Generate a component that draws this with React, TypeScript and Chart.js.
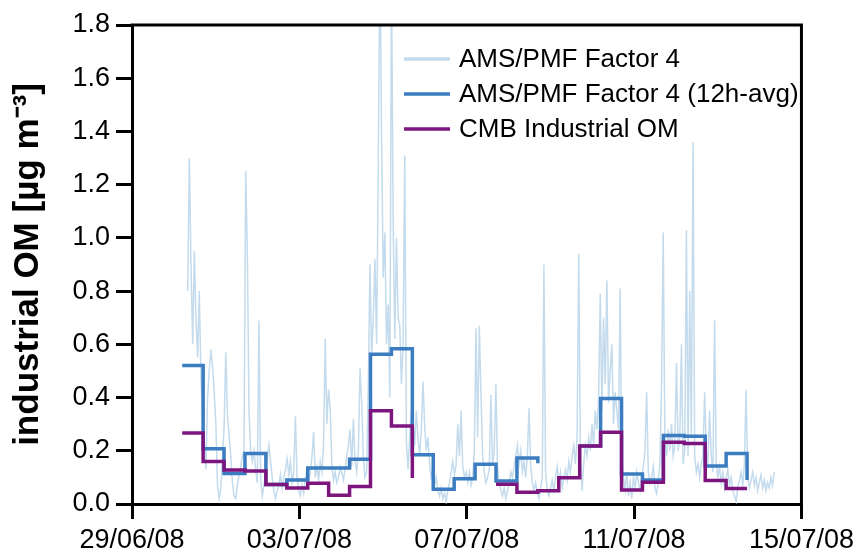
import React, { useEffect, useRef } from 'react';
import { Chart, registerables } from 'chart.js';

Chart.register(...registerables);

// ---- axis ticks ----
const xTickValues = [0, 4, 8, 12, 16]; // days since 29/06/08 00:00
const xTickLabels = ['29/06/08', '03/07/08', '07/07/08', '11/07/08', '15/07/08'];
const yTickValues = [0, 0.2, 0.4, 0.6, 0.8, 1.0, 1.2, 1.4, 1.6, 1.8];

// ---- 12h averaged series (step start times, days since 29/06/08) ----
const stepTimes = [
  1.2, 1.7, 2.2, 2.7, 3.2, 3.7, 4.2, 4.7, 5.2, 5.7, 6.2, 6.7, 7.2, 7.7,
  8.2, 8.7, 9.2, 9.7, 10.2, 10.7, 11.2, 11.7, 12.2, 12.7, 13.2, 13.7, 14.2, 14.7,
];
const amsPmf12h = [
  0.52, 0.208, 0.115, 0.19, 0.073, 0.09, 0.135, 0.135, 0.168, 0.563, 0.583, 0.185, 0.055, 0.095,
  0.149, 0.086, 0.173, 0.153, null, 0.218, 0.396, 0.113, 0.09, 0.257, 0.255, 0.143, 0.19, 0.09,
];
const cmbIndustrial = [
  0.267, 0.16, 0.128, 0.124, 0.073, 0.06, 0.078, 0.033, 0.066, 0.35, 0.293, 0.098, null, null,
  null, 0.074, 0.044, 0.05, 0.099, 0.218, 0.27, 0.053, 0.082, 0.232, 0.227, 0.088, 0.058, 0.058,
];

// ---- high resolution AMS/PMF factor 4 ----
const RAW_START = 1.331; // days since 29/06/08
const RAW_STEP = 0.0396; // days
const rawPart1 = [
  0.80, 1.30, 0.90, 0.60, 0.95, 0.70, 0.55, 0.80, 0.48, 0.30, 0.23, 0.13, 0.40, 0.50, 0.58, 0.52,
  0.42, 0.30, 0.07, 0.02, 0.06, 0.17, 0.30, 0.57, 0.33, 0.26, 0.18, 0.08, 0.03, 0.02, 0.07, 0.11,
  0.14, 0.18, 0.20, 1.25, 0.95, 0.35, 0.20, 0.16, 0.20, 0.13, 0.08, 0.69, 0.10, 0.03, 0.07, 0.12,
  0.17, 0.22, 0.16, 0.10, 0.05, 0.02, 0.05, 0.07, 0.11, 0.06, 0.10, 0.13, 0.17, 0.11, 0.16,
];
const rawPart2 = [
  0.08, 0.12, 0.33, 0.10, 0.05, 0.03, 0.07, 0.04, 0.10, 0.13, 0.08, 0.12, 0.18, 0.27, 0.10, 0.14,
  0.09, 0.16, 0.12, 0.22, 0.62, 0.30, 0.43, 0.36, 0.15, 0.09, 0.12, 0.08, 0.10, 0.14, 0.12, 0.09,
  0.13, 0.18, 0.22, 0.28, 0.14, 0.32, 0.16, 0.12, 0.20, 0.51, 0.38, 0.18, 0.10, 0.12, 0.45, 0.90,
  0.55, 0.70, 0.92, 0.60, 1.24, 2.10, 1.40, 0.85, 1.02, 0.60, 0.75, 0.40, 2.00, 1.07, 0.62, 1.00,
  0.70, 0.67, 0.45, 0.60, 1.31, 0.23, 0.13, 0.25, 0.35,
];
const rawPart3 = [
  0.30, 0.22, 0.35, 0.25, 0.18, 0.28, 0.46, 0.30, 0.20, 0.25, 0.15, 0.10, 0.13, 0.07, 0.10, 0.05,
  0.03, 0.06, 0.02, 0.04, 0.01, 0.05, 0.08, 0.12, 0.16, 0.11, 0.15, 0.30, 0.18, 0.35, 0.14, 0.10,
  0.12, 0.08, 0.12, 0.07, 0.10, 0.20, 0.66, 0.25, 0.67, 0.42, 0.18, 0.12, 0.08, 0.10, 0.13, 0.41,
  0.15, 0.20, 0.45, 0.14, 0.08, 0.05, 0.03, 0.06, 0.02, 0.05, 0.08, 0.12, 0.10, 0.14, 0.18, 0.22,
  0.15, 0.20, 0.12, 0.16, 0.10, 0.18, 0.36, 0.15, 0.08,
];
const rawPart4 = [
  0.05, 0.08, 0.04, 0.02, 0.06, 0.10, 0.90, 0.12, 0.05, 0.03, 0.06, 0.09, 0.05, 0.10, 0.14, 0.08,
  0.12, 0.06, 0.10, 0.13, 0.09, 0.16, 0.12, 0.18, 0.22, 0.15, 0.25, 0.94, 0.20, 0.05, 0.15, 0.22,
  0.18, 0.25, 0.20, 0.30, 0.22, 0.35, 0.28, 0.40, 0.79, 0.35, 0.70, 0.45, 0.84, 0.38, 0.50, 0.60,
  0.30, 0.42, 0.35, 0.28, 0.81, 0.15, 0.10, 0.05, 0.12, 0.03, 0.08, 0.02, 0.10, 0.06, 0.12, 0.08,
  0.05, 0.10, 0.14, 0.20, 0.42, 0.12, 0.08, 0.10, 0.14,
];
const rawPart5 = [
  0.06, 0.04, 0.08, 0.15, 0.45, 1.02, 0.25, 0.18, 0.28, 0.20, 0.30, 0.18, 0.22, 0.53, 0.20, 0.25,
  0.60, 0.15, 0.20, 1.03, 0.18, 0.80, 0.25, 1.36, 0.18, 0.12, 0.15, 0.10, 0.15, 0.18, 0.42, 0.20,
  0.15, 0.35, 0.18, 0.12, 0.69, 0.15, 0.10, 0.14, 0.08, 0.12, 0.06, 0.10, 0.13, 0.07, 0.10, 0.05,
  0.03, 0.01, 0.06, 0.09, 0.12, 0.07, 0.15, 0.43, 0.10, 0.06, 0.09, 0.12, 0.07, 0.10, 0.05, 0.08,
  0.11, 0.06, 0.09, 0.05, 0.08, 0.06, 0.10, 0.07, 0.12,
];

const seriesLabels = ['AMS/PMF Factor 4', 'AMS/PMF Factor 4 (12h-avg)', 'CMB Industrial OM'];
const seriesColors = ['#c3dbec', '#3b7dc0', '#7d157f'];

const FONT = "'Liberation Sans', Arial, Helvetica, sans-serif";

export default function App() {
  const ref = useRef<HTMLCanvasElement>(null);

  useEffect(() => {
    if (!ref.current) return;
    const rawValues = [...rawPart1, ...rawPart2, ...rawPart3, ...rawPart4, ...rawPart5];
    const rawPoints = rawValues.map((v, i) => ({ x: RAW_START + i * RAW_STEP, y: v }));
    const avgPoints = stepTimes.map((t, i) => ({ x: t, y: amsPmf12h[i] }));
    const cmbPoints = stepTimes.map((t, i) => ({ x: t, y: cmbIndustrial[i] }));

    const framePlugin = {
      id: 'frame',
      afterDraw(chart: any) {
        const { ctx, chartArea } = chart;
        ctx.save();
        ctx.strokeStyle = '#000';
        ctx.lineWidth = 3;
        ctx.beginPath();
        ctx.moveTo(chartArea.left - 1.5, chartArea.top);
        ctx.lineTo(chartArea.right, chartArea.top);
        ctx.lineTo(chartArea.right, chartArea.bottom + 1.5);
        ctx.stroke();
        ctx.restore();
      },
    };

    const legendPlugin = {
      id: 'insideLegend',
      afterDraw(chart: any) {
        const { ctx, chartArea } = chart;
        ctx.save();
        ctx.font = `26px ${FONT}`;
        ctx.textBaseline = 'middle';
        ctx.textAlign = 'left';
        seriesLabels.forEach((label, i) => {
          const y = chartArea.top + 34 + i * 35;
          ctx.strokeStyle = seriesColors[i];
          ctx.lineWidth = 3.5;
          ctx.beginPath();
          ctx.moveTo(chartArea.left + 272, y);
          ctx.lineTo(chartArea.left + 318, y);
          ctx.stroke();
          ctx.fillStyle = '#000';
          ctx.fillText(label, chartArea.left + 327, y + 1);
        });
        ctx.restore();
      },
    };

    const chart = new Chart(ref.current, {
      type: 'line',
      data: {
        datasets: [
          {
            label: seriesLabels[0],
            data: rawPoints,
            borderColor: seriesColors[0],
            borderWidth: 1.5,
            pointRadius: 0,
            tension: 0,
            order: 3,
          },
          {
            label: seriesLabels[1],
            data: avgPoints,
            borderColor: seriesColors[1],
            borderWidth: 3.5,
            pointRadius: 0,
            stepped: 'before',
            spanGaps: false,
            order: 2,
          },
          {
            label: seriesLabels[2],
            data: cmbPoints,
            borderColor: seriesColors[2],
            borderWidth: 3.5,
            pointRadius: 0,
            stepped: 'before',
            spanGaps: false,
            order: 1,
          },
        ],
      } as any,
      options: {
        animation: false,
        responsive: false,
        devicePixelRatio: 1,
        layout: { padding: { left: 0, right: 55, top: 25, bottom: 0 } },
        plugins: {
          legend: { display: false },
          tooltip: { enabled: false },
        },
        scales: {
          x: {
            type: 'linear',
            min: 0,
            max: 16,
            afterBuildTicks: (scale: any) => {
              scale.ticks = xTickValues.map((v) => ({ value: v }));
            },
            afterFit: (scale: any) => {
              scale.height = 52;
            },
            ticks: {
              autoSkip: false,
              maxRotation: 0,
              padding: 5,
              color: '#000',
              font: { family: FONT, size: 27 },
              callback: (v: any) => xTickLabels[xTickValues.indexOf(Number(v))],
            },
            grid: { drawOnChartArea: false, color: '#000', lineWidth: 3, tickLength: 15 },
            border: { color: '#000', width: 3 },
          },
          y: {
            type: 'linear',
            min: 0,
            max: 1.8,
            afterBuildTicks: (scale: any) => {
              scale.ticks = yTickValues.map((v) => ({ value: v }));
            },
            afterFit: (scale: any) => {
              scale.width = 132;
            },
            ticks: {
              padding: 6,
              color: '#000',
              font: { family: FONT, size: 27 },
              callback: (v: any) => Number(v).toFixed(1),
            },
            grid: { drawOnChartArea: false, color: '#000', lineWidth: 3, tickLength: 16 },
            border: { color: '#000', width: 3 },
            title: {
              display: true,
              text: 'industrial OM [µg m⁻³]',
              color: '#000',
              font: { family: FONT, size: 35, weight: 'bold' },
              padding: { top: 7, bottom: 0 },
            },
          },
        },
      } as any,
      plugins: [framePlugin, legendPlugin],
    });
    return () => chart.destroy();
  }, []);

  return (
    <div style={{ position: 'fixed', left: 0, top: 0, width: 859, height: 556, background: '#fff' }}>
      <canvas ref={ref} width={859} height={556} style={{ display: 'block' }} />
    </div>
  );
}
